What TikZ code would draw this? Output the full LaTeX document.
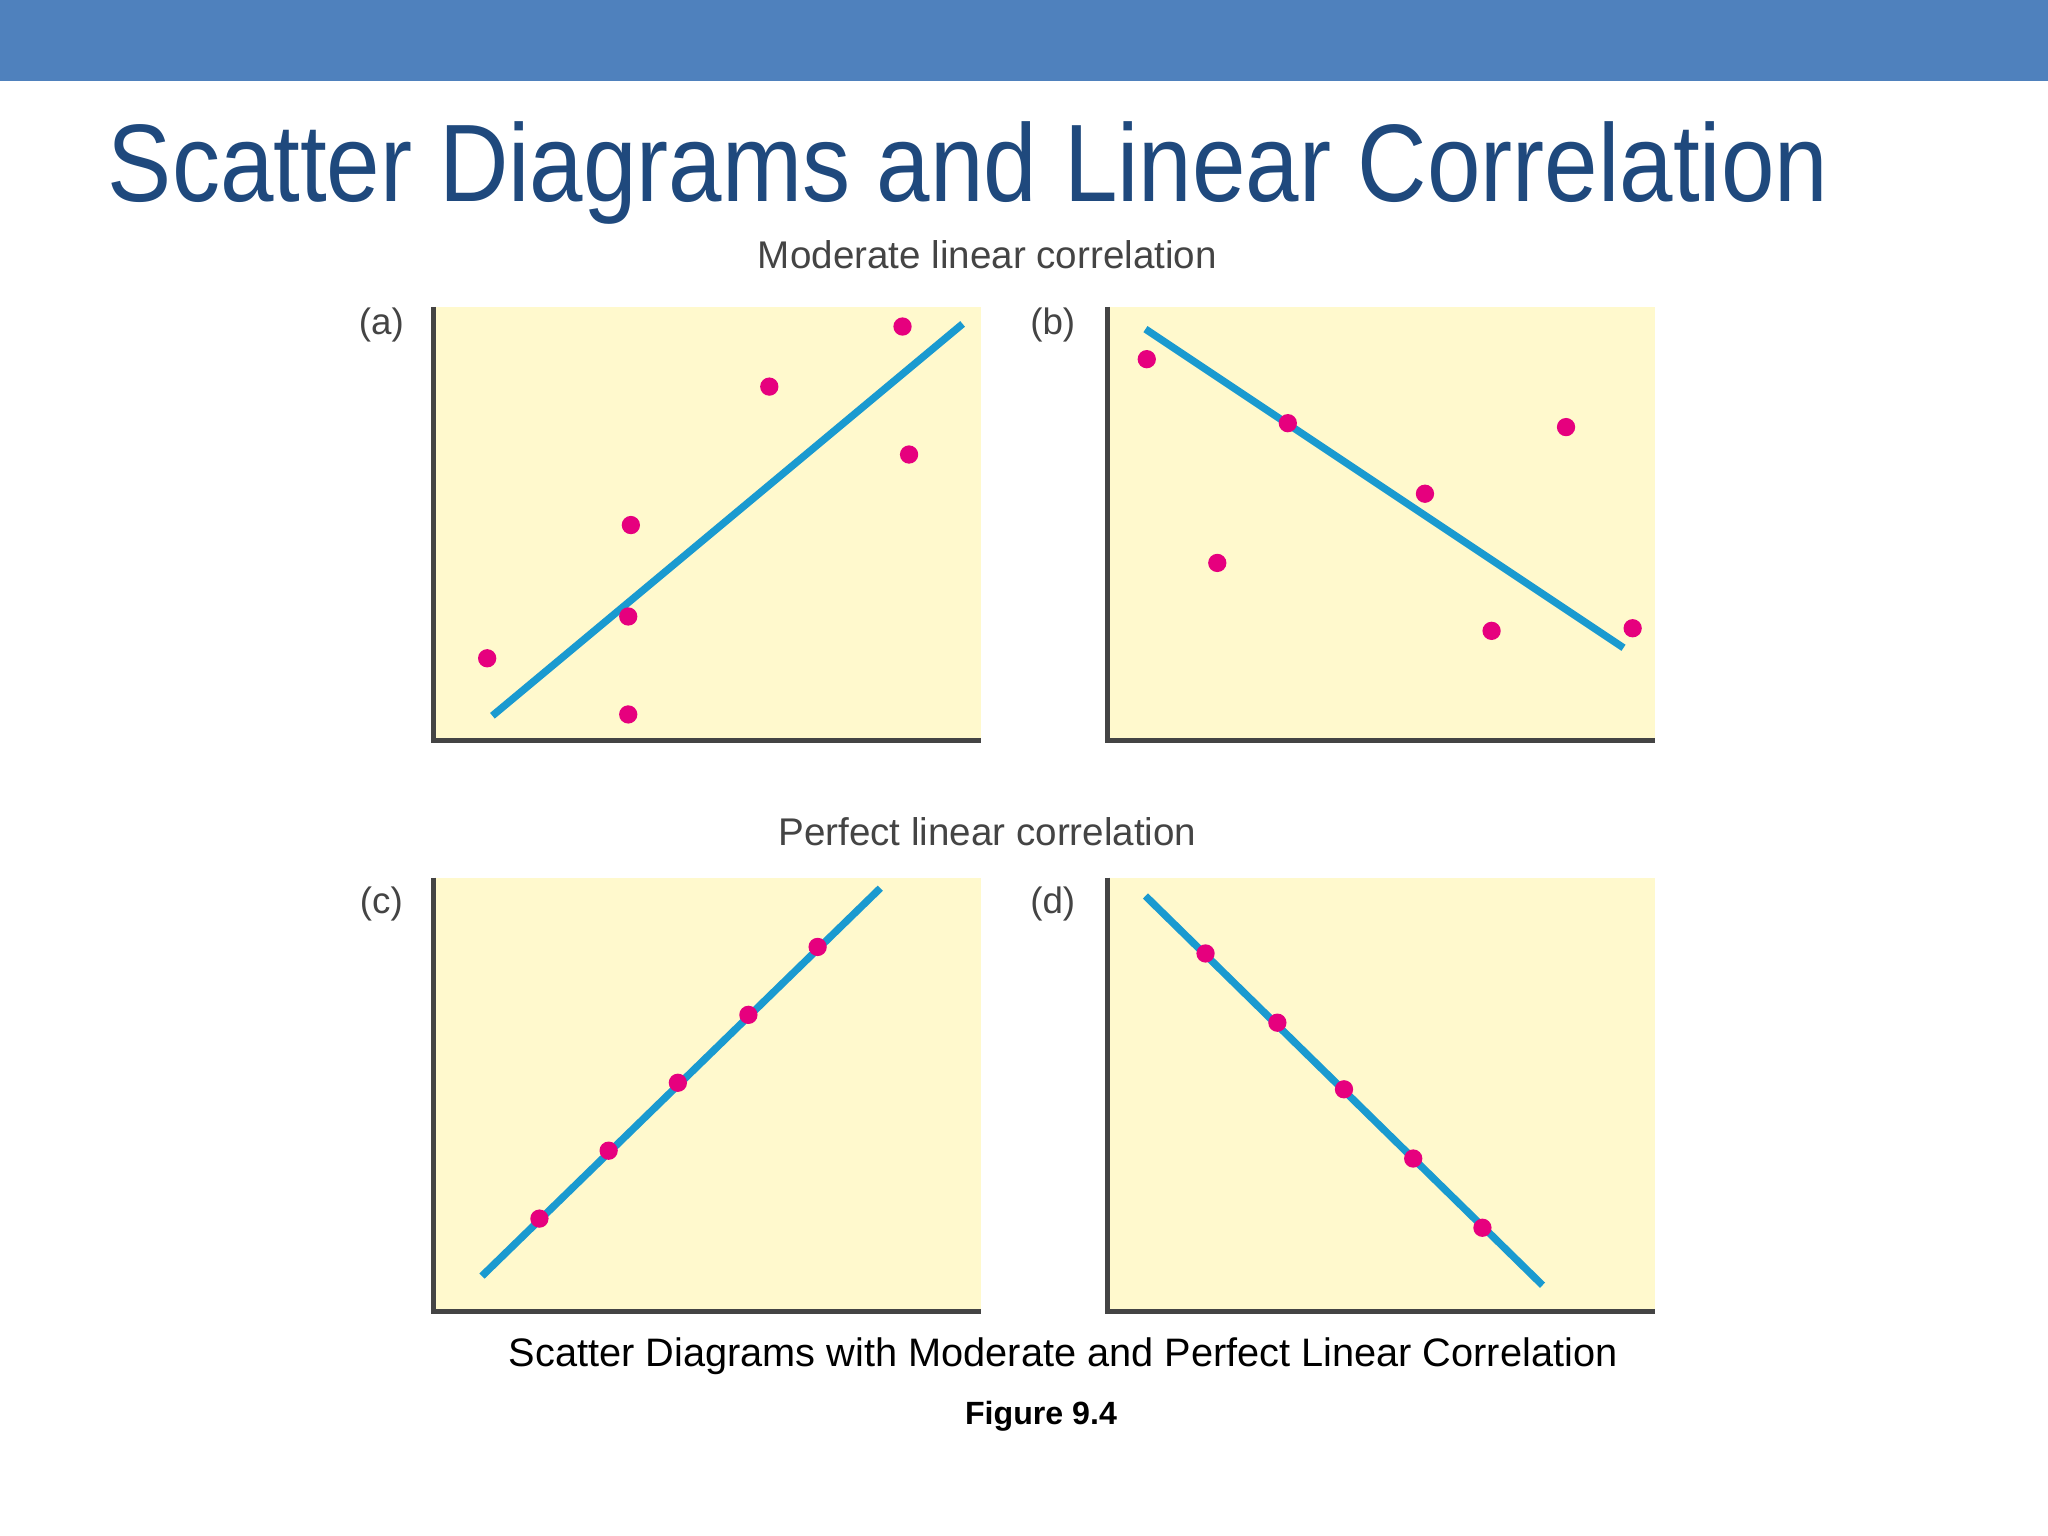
\documentclass[tikz,border=0pt]{standalone}
\usepackage{fontspec}
\setmainfont{Liberation Sans}
\definecolor{barblue}{HTML}{4F81BD}
\definecolor{titleblue}{HTML}{1F497D}
\definecolor{panel}{HTML}{FFF9CD}
\definecolor{lineblue}{HTML}{1A9AD0}
\definecolor{dotpink}{HTML}{E6007E}
\definecolor{labgray}{HTML}{444444}
\begin{document}
\begin{tikzpicture}[x=0.01cm,y=-0.01cm,
  dot/.style={circle,fill=dotpink,inner sep=0pt,minimum size=0.14cm},
  fitline/.style={lineblue,line width=1.6pt},
  axis/.style={labgray,line width=1.2pt},
  plab/.style={labgray,font=\fontsize{8}{9}\selectfont},
  ptitle/.style={labgray,font=\fontsize{8.4}{9}\selectfont}]
\useasboundingbox (0,0) rectangle (1568,1176);
\fill[barblue] (0,0) rectangle (1568,62);
\node[anchor=base west,titleblue,font=\fontsize{24}{28}\selectfont,inner sep=0pt,xscale=0.872] (title) at (82,154) {Scatter Diagrams and Linear Correlation};
% panels
\foreach \x/\y in {332/235,848/235,332/672,848/672}{
  \fill[panel] (\x,\y) rectangle (\x+419,\y+332);
  \draw[axis] (\x,\y) -- (\x,\y+332) -- (\x+419,\y+332);
}
\node[ptitle] (t1) at (756,195) {Moderate linear correlation};
\node[ptitle] (t2) at (756,637) {Perfect linear correlation};
\node[plab] (la) at (292,249) {(a)};
\node[plab] (lb) at (806,249) {(b)};
\node[plab] (lc) at (292,692) {(c)};
\node[plab] (ld) at (806,692) {(d)};
% (a)
\coordinate (a1) at (377,548); \coordinate (a2) at (737,248);
\draw[fitline] (a1) -- (a2);
\foreach \p [count=\i] in {(373,504),(481,547),(481,472),(483,402),(589,296),(691,250),(696,348)}
  \node[dot] (pa\i) at \p {};
% (b)
\coordinate (b1) at (877,252); \coordinate (b2) at (1243,496);
\draw[fitline] (b1) -- (b2);
\foreach \p [count=\i] in {(878,275),(932,431),(986,324),(1091,378),(1142,483),(1199,327),(1250,481)}
  \node[dot] (pb\i) at \p {};
% (c)
\coordinate (c1) at (369,977); \coordinate (c2) at (674,680);
\draw[fitline] (c1) -- (c2);
\foreach \p [count=\i] in {(413,933),(466,881),(519,829),(573,777),(626,725)}
  \node[dot] (pc\i) at \p {};
% (d)
\coordinate (d1) at (877,686); \coordinate (d2) at (1181,984);
\draw[fitline] (d1) -- (d2);
\foreach \p [count=\i] in {(923,730),(978,783),(1029,834),(1082,887),(1135,940)}
  \node[dot] (pd\i) at \p {};
\node[font=\fontsize{8.65}{10}\selectfont] (cap) at (814,1038) {Scatter Diagrams with Moderate and Perfect Linear Correlation};
\node[font=\bfseries\fontsize{7}{8}\selectfont] (fig) at (797,1084) {Figure 9.4};
\end{tikzpicture}
\end{document}
